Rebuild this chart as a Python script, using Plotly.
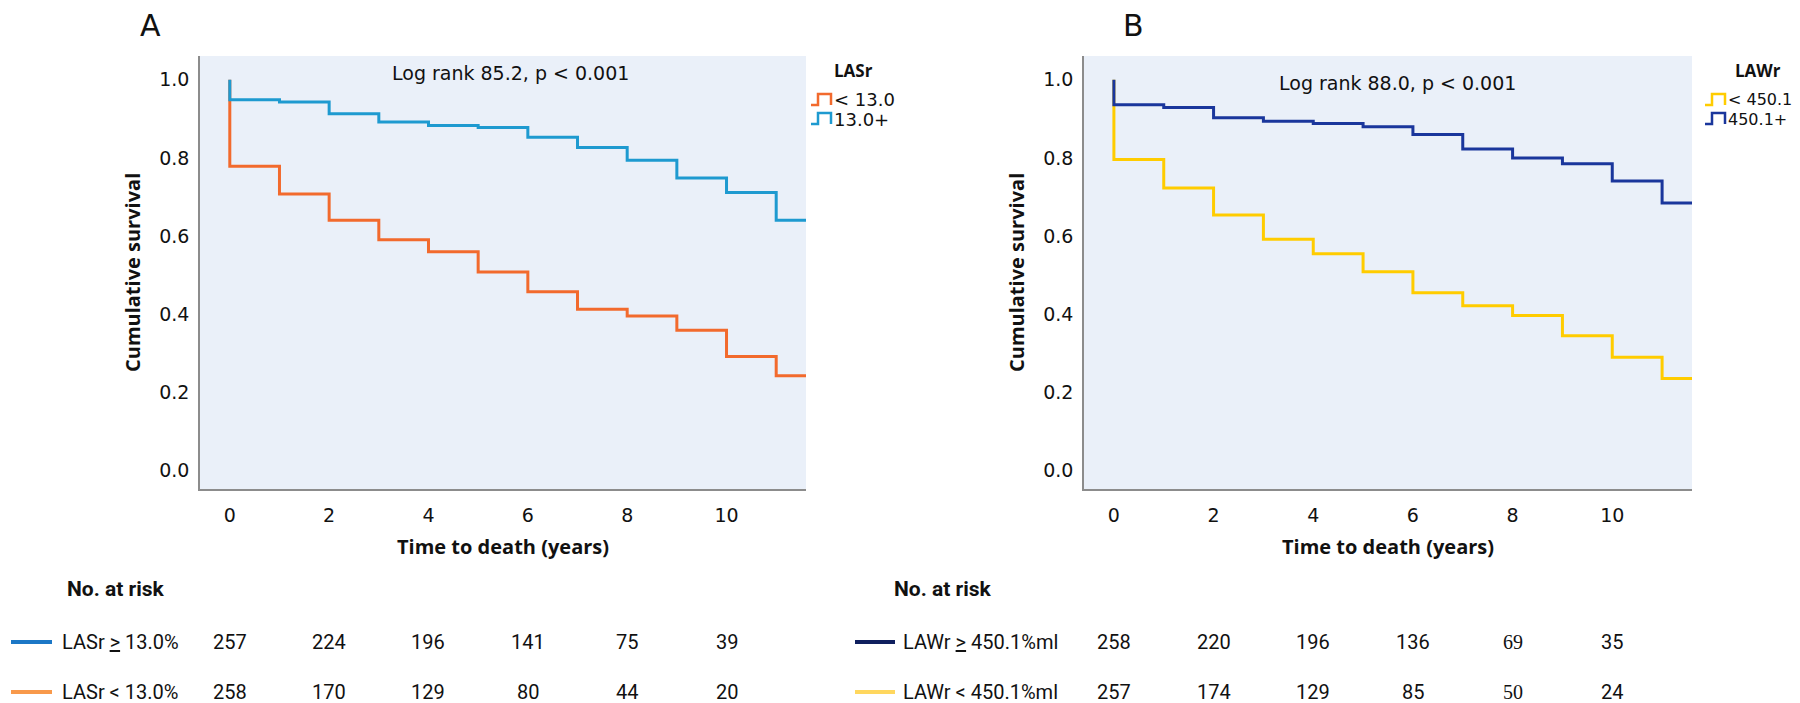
import plotly.graph_objects as go

# ---------------- data ----------------
times = [0, 1, 2, 3, 4, 5, 6, 7, 8, 9, 10, 11]
end_time = 11.6

lasr_low = [0.779, 0.708, 0.641, 0.591, 0.560, 0.508, 0.458, 0.413, 0.396, 0.359, 0.292, 0.243]
lasr_high = [0.949, 0.943, 0.913, 0.892, 0.883, 0.878, 0.853, 0.827, 0.794, 0.749, 0.712, 0.641]
lawr_low = [0.796, 0.723, 0.654, 0.592, 0.555, 0.509, 0.455, 0.422, 0.397, 0.345, 0.290, 0.236]
lawr_high = [0.936, 0.929, 0.903, 0.894, 0.888, 0.880, 0.860, 0.823, 0.800, 0.785, 0.741, 0.685]

risk_times = [0, 2, 4, 6, 8, 10]
lasr_high_risk = [257, 224, 196, 141, 75, 39]
lasr_low_risk = [258, 170, 129, 80, 44, 20]
lawr_high_risk = [258, 220, 196, 136, 69, 35]
lawr_low_risk = [257, 174, 129, 85, 50, 24]
serif_values = {(2, 4), (3, 4)}  # "69" and "50" appear in a serif face

x_ticks = [0, 2, 4, 6, 8, 10]
y_ticks = [0.0, 0.2, 0.4, 0.6, 0.8, 1.0]

# ---------------- style ----------------
W, H = 1800, 703
C_ORANGE = "#F26A2D"
C_LBLUE = "#1E9AD0"
C_NAVY = "#1A369C"
C_YELLOW = "#FFCC00"
BG = "#EAF0F9"
AXC = "#8C8C8C"
PLOT_FONT = "DejaVu Sans"
BOLD_FONT = "Open Sans"
TABLE_FONT = "Roboto"


def px(x):
    return x / W


def py(y):
    return 1 - y / H


fig = go.Figure()


def km(xs, ys):
    return [0] + xs + [end_time], [1.0] + ys + [ys[-1]]


for xa, ya, series in [
    ("x", "y", [(lasr_low, C_ORANGE, "< 13.0"), (lasr_high, C_LBLUE, "13.0+")]),
    ("x2", "y2", [(lawr_low, C_YELLOW, "< 450.1"), (lawr_high, C_NAVY, "450.1+")]),
]:
    for vals, col, name in series:
        xx, yy = km(times, vals)
        fig.add_trace(go.Scatter(
            x=xx, y=yy, mode="lines", line=dict(color=col, width=3, shape="hv"),
            name=name, showlegend=False, xaxis=xa, yaxis=ya, hoverinfo="skip"))

ydom = [py(481), py(48)]
axis_common = dict(showgrid=False, zeroline=False, showline=True, linecolor=AXC,
                   linewidth=1.5, ticks="", tickfont=dict(family=PLOT_FONT, size=19, color="#111"))

fig.update_layout(
    width=W, height=H, margin=dict(l=0, r=0, t=0, b=0),
    paper_bgcolor="white", plot_bgcolor=BG, showlegend=False,
    xaxis=dict(domain=[px(192), px(798)], range=[-0.6, 11.6], tickvals=x_ticks,
               ticklabelstandoff=8, anchor="y", **axis_common),
    yaxis=dict(domain=ydom, range=[-0.047, 1.061], tickvals=y_ticks, tickformat=".1f",
               ticklabelstandoff=5, anchor="x", **axis_common),
    xaxis2=dict(domain=[px(1076), px(1684)], range=[-0.6, 11.6], tickvals=x_ticks,
                ticklabelstandoff=8, anchor="y2", **axis_common),
    yaxis2=dict(domain=ydom, range=[-0.047, 1.061], tickvals=y_ticks, tickformat=".1f",
                ticklabelstandoff=5, anchor="x2", **axis_common),
)

ann = []
shapes = []


def text(x, y, s, size, family=PLOT_FONT, bold=False, xanchor="center", yanchor="middle",
         xref="paper", angle=0, color="#111"):
    ann.append(dict(x=x, y=y, xref=xref, yref="paper", text=("<b>%s</b>" % s) if bold else s,
                    showarrow=False, xanchor=xanchor, yanchor=yanchor, textangle=angle,
                    font=dict(family=family, size=size, color=color)))


# panel letters
text(px(142), py(17), "A", 30)
text(px(1125), py(17), "B", 30)

# log rank
text(px(502), py(65), "Log rank 85.2, p &lt; 0.001", 19)
text(px(1389), py(75), "Log rank 88.0, p &lt; 0.001", 19)

# axis titles
for cx_y, cx_x in [(124, 495), (1008, 1380)]:
    text(px(cx_y), py(265), "Cumulative survival", 20, family=BOLD_FONT, bold=True, angle=-90)
    text(px(cx_x), py(538), "Time to death (years)", 20, family=BOLD_FONT, bold=True)

# custom legends
for title, tx, ix0, fs, items in [
    ("LASr", 845, 803, 18, [("&lt; 13.0", C_ORANGE), ("13.0+", C_LBLUE)]),
    ("LAWr", 1750, 1697, 16, [("&lt; 450.1", C_YELLOW), ("450.1+", C_NAVY)]),
]:
    text(px(tx), py(63), title, 17, family=BOLD_FONT, bold=True)
    for k, (lab, col) in enumerate(items):
        yc = 92 + 19 * k
        x0, x1, x2 = ix0, ix0 + 7, ix0 + 20
        ylo, yhi = yc + 5, yc - 6
        path = "M %f,%f L %f,%f L %f,%f L %f,%f L %f,%f" % (
            px(x0), py(ylo), px(x1), py(ylo), px(x1), py(yhi), px(x2), py(yhi), px(x2), py(ylo))
        shapes.append(dict(type="path", xref="paper", yref="paper", path=path,
                           line=dict(color=col, width=2.5)))
        text(px(x2 + 1), py(yc), lab, fs, xanchor="left")

# risk tables
rows = [
    ("x", 57, 3, 44, 52, [("LASr <u>&gt;</u> 13.0%", "#1C77C6", lasr_high_risk),
                          ("LASr &lt; 13.0%", "#F8994B", lasr_low_risk)]),
    ("x2", 884, 847, 887, 893, [("LAWr <u>&gt;</u> 450.1%ml", "#0F1F5E", lawr_high_risk),
                                ("LAWr &lt; 450.1%ml", "#FFD75E", lawr_low_risk)]),
]
row_y = [634, 684]
for ti, (xr, hx, lx0, lx1, labx, rws) in enumerate(rows):
    text(px(hx), py(581), "No. at risk", 21, family=TABLE_FONT, bold=True, xanchor="left")
    for ri, (lab, col, vals) in enumerate(rws):
        yc = row_y[ri]
        shapes.append(dict(type="line", xref="paper", yref="paper", x0=px(lx0), x1=px(lx1),
                           y0=py(yc), y1=py(yc), line=dict(color=col, width=4)))
        text(px(labx), py(yc), lab, 20, family=TABLE_FONT, xanchor="left")
        for vi, (t, v) in enumerate(zip(risk_times, vals)):
            fam = "Liberation Serif" if (ti * 2 + ri, vi) in serif_values else TABLE_FONT
            text(t, py(yc), str(v), 20, family=fam, xref=xr)

fig.update_layout(annotations=ann, shapes=shapes)
fig.write_html("out.html")
